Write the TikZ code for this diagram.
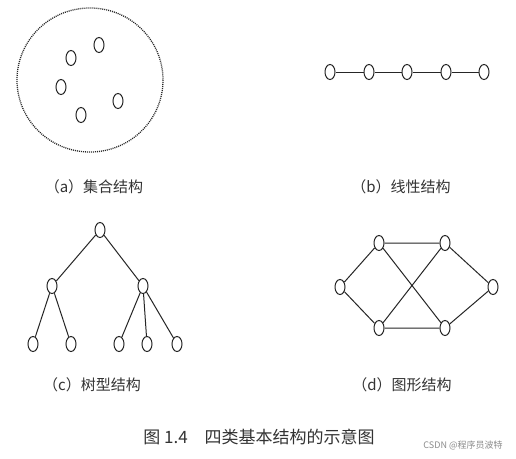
\documentclass[tikz,border=0pt]{standalone}
\usepackage{fontspec}
\usetikzlibrary{shapes.geometric}
\newfontfamily\cjk{Noto Sans CJK SC}
\begin{document}
\begin{tikzpicture}[x=1pt,y=-1pt,
  v/.style={ellipse,draw=black!85,line width=1pt,minimum width=10pt,minimum height=15pt,inner sep=0pt},
  e/.style={line width=1pt,draw=black!85},
  lbl/.style={font=\cjk\fontsize{15}{15}\selectfont,text=black!80,inner sep=0pt},
  captext/.style={font=\cjk\fontsize{17}{17}\selectfont,text=black!80,inner sep=0pt},
  wm/.style={font=\cjk\fontsize{9}{9}\selectfont,text=black!45,inner sep=0pt}]
\useasboundingbox[fill=white] (0,0) rectangle (516,458);
% (a) set
\draw[dash pattern=on 1pt off 1pt,line width=1.3pt,black!85] (90,80) ellipse [x radius=73, y radius=72];
\node[v] (a1) at (99,45) {};
\node[v] (a2) at (71,58) {};
\node[v] (a3) at (61,87) {};
\node[v] (a4) at (118,101) {};
\node[v] (a5) at (81,115) {};
\node[lbl] (la) at (94,187) {（a）集合结构};
% (b) linear
\node[v] (b1) at (330,72) {};
\node[v] (b2) at (369,72) {};
\node[v] (b3) at (407,72) {};
\node[v] (b4) at (446,72) {};
\node[v] (b5) at (484,72) {};
\draw[e] (b1)--(b2) (b2)--(b3) (b3)--(b4) (b4)--(b5);
\node[lbl] (lb) at (401,187) {（b）线性结构};
% (c) tree
\node[v] (c0) at (100,230) {};
\node[v] (c1) at (52,286) {};
\node[v] (c2) at (143,286) {};
\node[v] (c11) at (33,344) {};
\node[v] (c12) at (71,344) {};
\node[v] (c21) at (119,344) {};
\node[v] (c22) at (147,344) {};
\node[v] (c23) at (177,344) {};
\draw[e] (c0)--(c1) (c0)--(c2) (c1)--(c11) (c1)--(c12) (c2)--(c21) (c2)--(c22) (c2)--(c23);
\node[lbl] (lc) at (92,385) {（c）树型结构};
% (d) graph
\node[v] (d1) at (379,243) {};
\node[v] (d2) at (445,243) {};
\node[v] (d3) at (340,287) {};
\node[v] (d4) at (493,287) {};
\node[v] (d5) at (379,328) {};
\node[v] (d6) at (445,328) {};
\draw[e] (d3)--(d1) (d3)--(d5) (d1)--(d2) (d5)--(d6) (d1)--(d6) (d5)--(d2) (d2)--(d4) (d6)--(d4);
\node[lbl] (ld) at (402,385) {（d）图形结构};
% caption
\node[captext] (cp) at (259,437) {图 1.4\quad 四类基本结构的示意图};
\node[wm] (w) at (463,445) {CSDN @程序员波特};
\end{tikzpicture}
\end{document}
